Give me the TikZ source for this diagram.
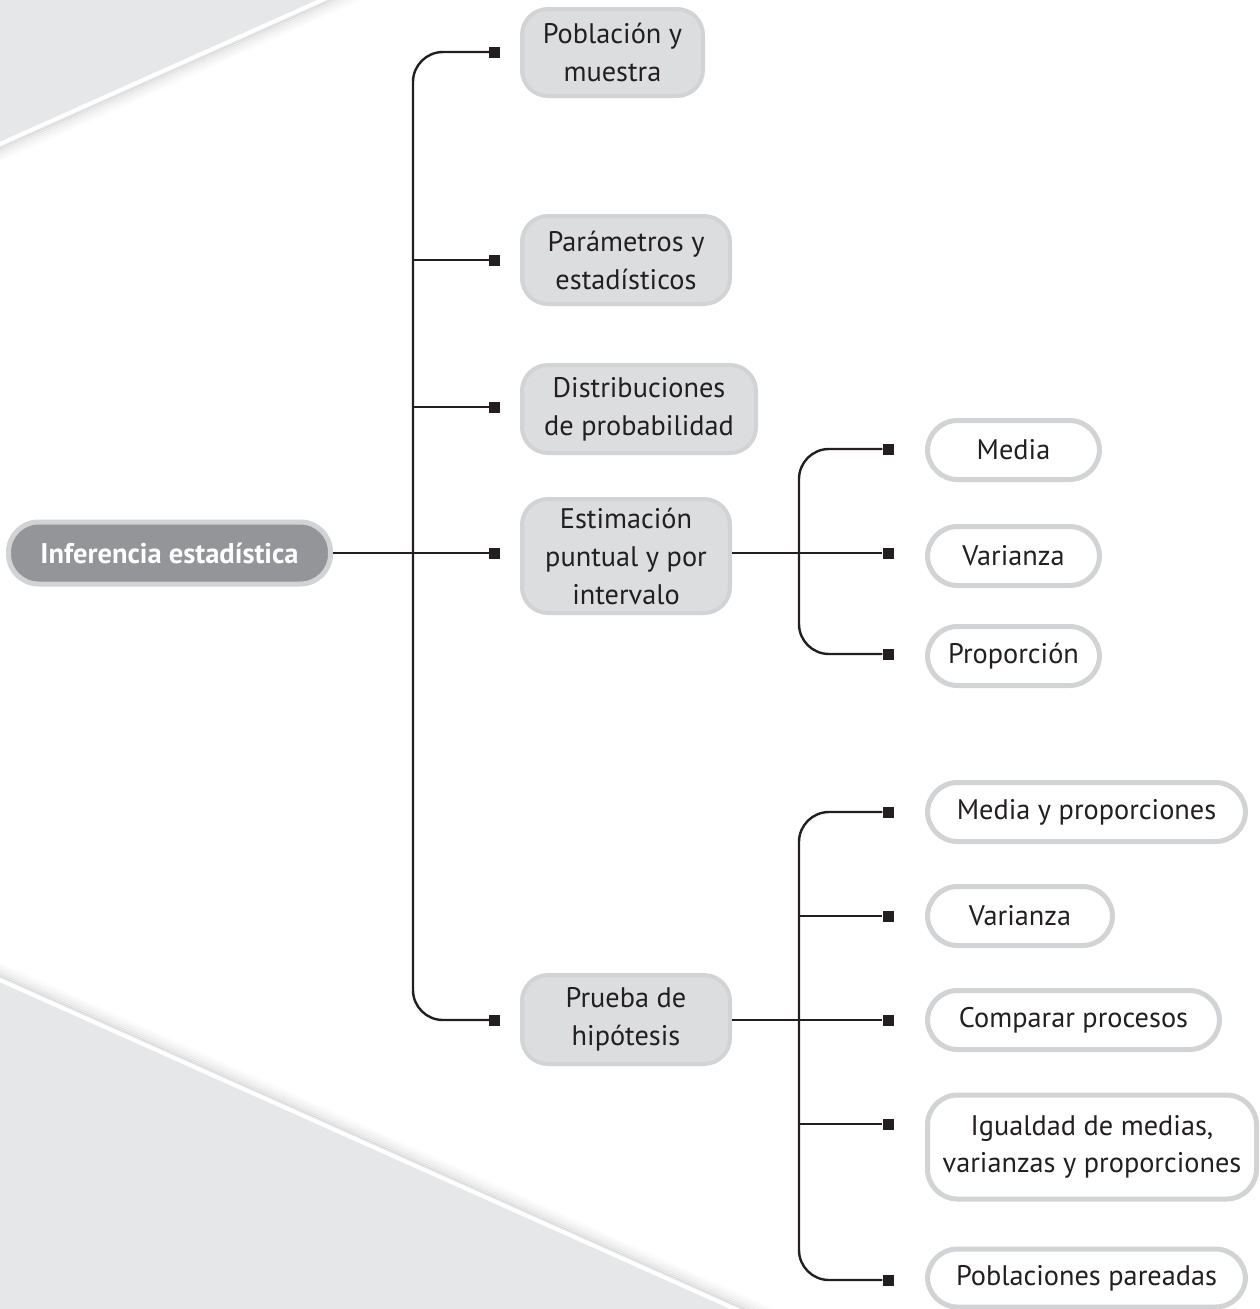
\documentclass[tikz,border=0pt]{standalone}
\usepackage{fontspec}
\setmainfont{PT Sans}
\definecolor{bg}{HTML}{E6E7E8}
\definecolor{ring}{HTML}{D1D3D4}
\definecolor{fillA}{HTML}{DCDDDF}
\definecolor{rootfill}{HTML}{939598}
\definecolor{ink}{HTML}{231F20}
\begin{document}
\begin{tikzpicture}[x=1pt,y=-1pt,
  rootbox/.style={draw=ring, line width=5pt, fill=rootfill, rounded corners=30pt, text=white,
    font=\fontsize{28.5}{34}\selectfont\bfseries, align=center, inner sep=0pt},
  lonebox/.style={draw=ring, line width=4pt, fill=fillA, rounded corners=26pt, text=ink,
    font=\fontsize{28.3}{38}\selectfont, align=center, inner sep=0pt},
  ltwobox/.style={draw=ring, line width=5pt, fill=white, rounded corners=30pt, text=ink,
    font=\fontsize{28.3}{37}\selectfont, align=center, inner sep=0pt},
  mk/.style={fill=ink, minimum size=11pt, inner sep=0pt, draw=none},
  link/.style={draw=ink, line width=2.4pt},
  trunk/.style={draw=ink, line width=2.4pt, rounded corners=30pt}
]
\useasboundingbox (0,0) rectangle (1259,1309);
% background shapes
\fill[bg] (0,0) -- (322,0) -- (0,144) -- cycle;
\foreach \d/\o in {3/0.10,5/0.08,7/0.06,9/0.045,11/0.03,13/0.02,15/0.01}
  \draw[line width=2.5pt, black, opacity=\o, shift={(0.408*\d,0.913*\d)}] (-30,157.4) -- (352,-13.4);
\draw[white, line width=4pt] (-30,157.4) -- (352,-13.4);
\fill[bg] (0,980) -- (735,1309) -- (0,1309) -- cycle;
\foreach \d/\o in {3/0.10,5/0.08,7/0.06,9/0.045,11/0.03,13/0.02,15/0.01}
  \draw[line width=2.5pt, black, opacity=\o, shift={(0.4086*\d,-0.9127*\d)}] (-30,966.6) -- (800,1338);
\draw[white, line width=4pt] (-30,966.6) -- (800,1338);

% root
\node[rootbox, minimum width=322pt, minimum height=62pt] (root) at (169.5,553) {Inferencia estadística};

% level 1
\node[lonebox, minimum width=181pt, minimum height=87pt] (pob) at (612.5,52.5) {Población y\\muestra};
\node[lonebox, minimum width=208pt, minimum height=88pt] (par) at (626,260) {Parámetros y\\estadísticos};
\node[lonebox, minimum width=234pt, minimum height=88pt] (dis) at (639,409) {Distribuciones\\de probabilidad};
\node[lonebox, minimum width=208pt, minimum height=114pt] (est) at (626,556) {Estimación\\puntual y por\\intervalo};
\node[lonebox, minimum width=208pt, minimum height=89pt] (pru) at (626,1019.5) {Prueba de\\hipótesis};

\node[mk] (mpob) at (494.5,52) {};
\node[mk] (mpar) at (494.5,260) {};
\node[mk] (mdis) at (494.5,407) {};
\node[mk] (mest) at (494.5,553) {};
\node[mk] (mpru) at (494.5,1020) {};

% level 2 (estimacion)
\node[ltwobox, minimum width=172pt, minimum height=59pt] (med) at (1013.5,450) {Media};
\node[ltwobox, minimum width=172pt, minimum height=59pt] (var) at (1013.5,556) {Varianza};
\node[ltwobox, minimum width=172pt, minimum height=59pt] (pro) at (1013.5,656) {Proporción};
\node[mk] (mmed) at (888,449) {};
\node[mk] (mvar) at (888,553) {};
\node[mk] (mpro) at (888,654) {};

% level 2 (prueba)
\node[ltwobox, minimum width=318pt, minimum height=59pt] (myp) at (1086.5,812) {Media y proporciones};
\node[ltwobox, minimum width=185pt, minimum height=59pt] (vartwo) at (1020,916) {Varianza};
\node[ltwobox, minimum width=292pt, minimum height=59pt] (com) at (1073.5,1020) {Comparar procesos};
\node[ltwobox, minimum width=329pt, minimum height=104pt] (igu) at (1092,1147) {Igualdad de medias,\\varianzas y proporciones};
\node[ltwobox, minimum width=318pt, minimum height=58pt] (pobtwo) at (1086.5,1278) {Poblaciones pareadas};
\node[mk] (mmyp) at (888,812) {};
\node[mk] (mvartwo) at (888,916) {};
\node[mk] (mcom) at (888,1020) {};
\node[mk] (migu) at (888,1124) {};
\node[mk] (mpobtwo) at (888,1280) {};

% connectors
\coordinate (ta) at (413,553);
\coordinate (tb) at (799,553);
\coordinate (tc) at (799,1020);
\draw[trunk] (mpob) -| (ta) |- (mpru);
\draw[link] (ta |- mpar) -- (mpar);
\draw[link] (ta |- mdis) -- (mdis);
\draw[link] (root.east |- mest) -- (mest);

\draw[trunk] (mmed) -| (tb) |- (mpro);
\draw[link] (est.east |- mvar) -- (mvar);

\draw[trunk] (mmyp) -| (tc) |- (mpobtwo);
\draw[link] (tc |- mvartwo) -- (mvartwo);
\draw[link] (tc |- migu) -- (migu);
\draw[link] (pru.east |- mcom) -- (mcom);
\end{tikzpicture}
\end{document}
